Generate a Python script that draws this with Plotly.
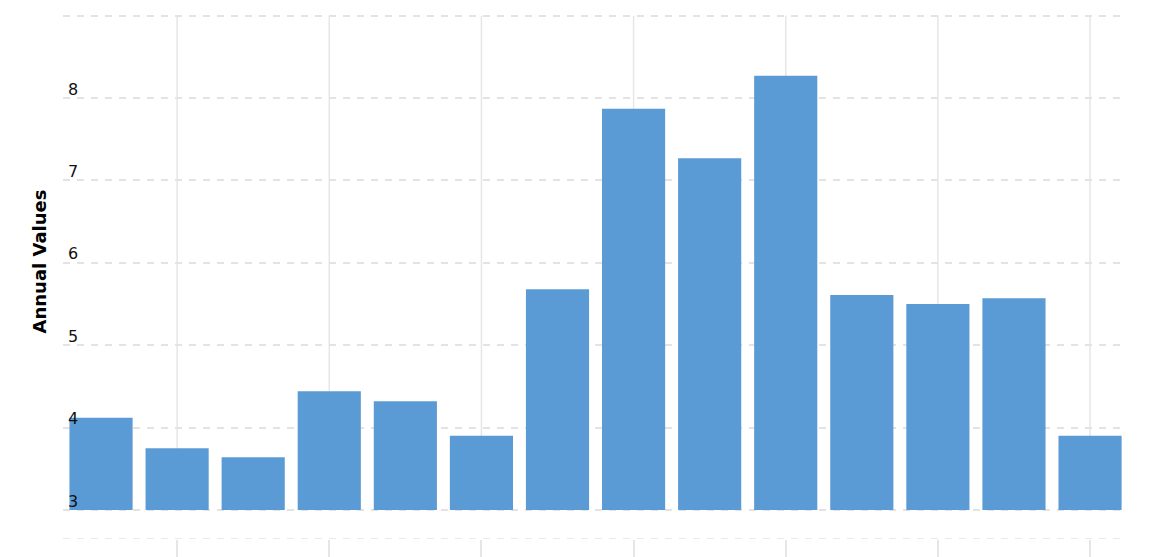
import plotly.graph_objects as go

categories = [str(i) for i in range(1, 15)]
values = [4.12, 3.75, 3.64, 4.44, 4.32, 3.90, 5.68, 7.87, 7.27, 8.27, 5.61, 5.50, 5.57, 3.90]
y_ticks = [3, 4, 5, 6, 7, 8, 9]
y_tick_labels = ["3", "4", "5", "6", "7", "8", ""]
y_title = "Annual Values"
bar_color = "#5B9BD5"
grid_color = "#e3e3e3"

BASE = 3
Y_MIN, Y_MAX = 2.648, 9.02
grid_x_idx = list(range(1, len(categories), 2))

fig = go.Figure()
fig.add_trace(go.Bar(
    x=categories, y=[v - BASE for v in values], base=BASE,
    customdata=values,
    hovertemplate="%{x}: %{customdata}<extra></extra>",
    marker=dict(color=bar_color, line=dict(width=0)),
))

dash_line = dict(color=grid_color, width=1.5, dash="7px,7px")
shapes = []
for i in grid_x_idx:
    shapes.append(dict(type="line", xref="x", yref="y", x0=i, x1=i, y0=BASE, y1=y_ticks[-1],
                       line=dict(color="#e6e6e6", width=1.5), layer="below"))
for yv in (Y_MIN, y_ticks[-1]):
    shapes.append(dict(type="line", xref="paper", yref="y", x0=0, x1=1, y0=yv, y1=yv,
                       line=dash_line, layer="below"))

fig.update_layout(
    width=1168, height=557,
    margin=dict(l=55, r=54, t=6, b=26, autoexpand=False),
    paper_bgcolor="white", plot_bgcolor="white",
    showlegend=False, bargap=0.17,
    shapes=shapes,
    font=dict(family="DejaVu Sans", color="#000000"),
    xaxis=dict(
        type="category", range=[-0.5, 13.42],
        tickmode="array", tickvals=[categories[i] for i in grid_x_idx],
        showticklabels=False, ticks="outside", ticklen=19, tickwidth=1.5,
        tickcolor="#e6e6e6", showgrid=False, zeroline=False, showline=False,
    ),
    yaxis=dict(
        range=[Y_MIN, Y_MAX], tickmode="array", tickvals=y_ticks, ticktext=y_tick_labels,
        ticklabelposition="inside", ticklabelshift=-9, ticklabelstandoff=2,
        tickfont=dict(size=16, color="#111111", family="DejaVu Sans"),
        showgrid=True, gridcolor=grid_color, gridwidth=1.5, griddash="7px,7px",
        zeroline=False, showline=False, ticks="",
    ),
    annotations=[dict(
        text="<b>" + y_title + "</b>", textangle=-90, showarrow=False,
        xref="paper", yref="paper", x=0, y=0.5286, xanchor="center", yanchor="middle",
        xshift=-24, font=dict(size=18, color="#000000", family="DejaVu Sans"),
    )],
)

fig.write_html("out.html")
